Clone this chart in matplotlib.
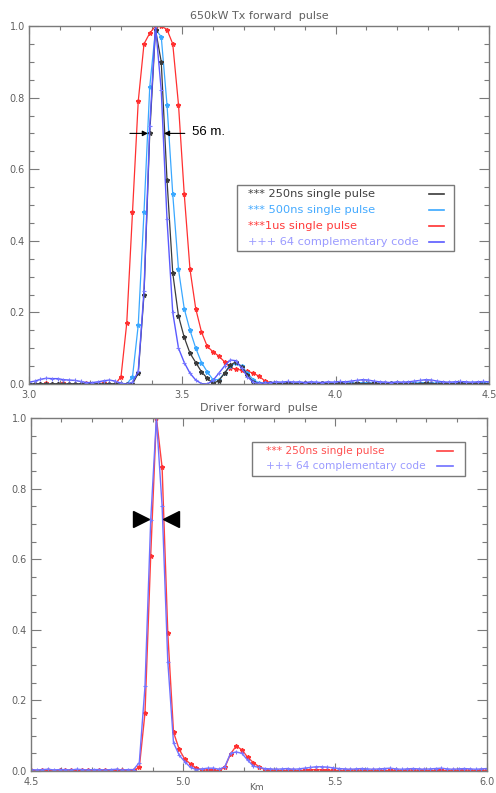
import numpy as np
import matplotlib
matplotlib.use("Agg")
import matplotlib.pyplot as plt
from matplotlib.patches import Rectangle
from matplotlib.ticker import MultipleLocator

# ---------------- data ----------------
# sample grid: start (km) and step (km) of range gates
top_start = 3.0
bot_start = 4.5
gate_step = 0.01875

top_red_1us = [0.0, 0.0, 0.0, 0.002, 0.0, 0.0, 0.002, 0.0, 0.0, 0.0,
               0.002, 0.0, 0.0, 0.003, 0.0, 0.0, 0.02, 0.17, 0.48, 0.79,
               0.95, 0.98, 1.0, 1.0, 0.99, 0.95, 0.78, 0.53, 0.32, 0.21,
               0.145, 0.105, 0.09, 0.078, 0.062, 0.046, 0.041, 0.039, 0.036, 0.03,
               0.022, 0.009, 0.004, 0.002, 0.001, 0.002, 0.002, 0.001, 0.003, 0.002,
               0.001, 0.002, 0.002, 0.001, 0.002, 0.003, 0.002, 0.001, 0.002, 0.002,
               0.001, 0.002, 0.002, 0.001, 0.002, 0.003, 0.002, 0.002, 0.001, 0.002,
               0.002, 0.001, 0.002, 0.002, 0.001, 0.002, 0.002, 0.001, 0.002, 0.002, 0.001]
top_black_250ns = [0.0, 0.0, 0.001, 0.0, 0.0, 0.001, 0.0, 0.0, 0.001, 0.0,
                   0.0, 0.001, 0.0, 0.0, 0.001, 0.0, 0.0, 0.0, 0.0, 0.03,
                   0.25, 0.70, 0.99, 0.90, 0.57, 0.31, 0.19, 0.13, 0.086, 0.06,
                   0.034, 0.016, 0.002, 0.009, 0.03, 0.053, 0.062, 0.048, 0.025, 0.005,
                   0.001, 0.001, 0.002, 0.001, 0.001, 0.002, 0.001, 0.001, 0.002, 0.001,
                   0.001, 0.002, 0.001, 0.001, 0.002, 0.001, 0.001, 0.002, 0.001, 0.001,
                   0.002, 0.001, 0.001, 0.002, 0.001, 0.001, 0.002, 0.001, 0.001, 0.002,
                   0.001, 0.001, 0.002, 0.001, 0.001, 0.002, 0.001, 0.001, 0.002, 0.001, 0.001]
top_lblue_500ns = [0.0, 0.0, 0.0, 0.001, 0.0, 0.0, 0.001, 0.0, 0.0, 0.001,
                   0.0, 0.0, 0.001, 0.0, 0.0, 0.001, 0.0, 0.0, 0.02, 0.165,
                   0.48, 0.83, 0.99, 0.97, 0.78, 0.53, 0.32, 0.21, 0.15, 0.10,
                   0.06, 0.034, 0.012, 0.012, 0.03, 0.05, 0.058, 0.05, 0.03, 0.012,
                   0.003, 0.002, 0.002, 0.003, 0.002, 0.002, 0.003, 0.002, 0.002, 0.003,
                   0.002, 0.002, 0.003, 0.002, 0.002, 0.003, 0.002, 0.002, 0.004, 0.003,
                   0.002, 0.002, 0.003, 0.002, 0.002, 0.003, 0.002, 0.002, 0.003, 0.004,
                   0.002, 0.002, 0.003, 0.002, 0.002, 0.003, 0.002, 0.002, 0.003, 0.002, 0.002]
top_blue_code = [0.005, 0.008, 0.013, 0.016, 0.015, 0.015, 0.012, 0.011, 0.010, 0.007,
                 0.004, 0.004, 0.006, 0.009, 0.011, 0.008, 0.002, 0.0, 0.005, 0.035,
                 0.26, 0.72, 1.0, 0.82, 0.46, 0.20, 0.10, 0.06, 0.03, 0.011,
                 0.001, 0.0, 0.01, 0.03, 0.05, 0.067, 0.065, 0.044, 0.02, 0.005,
                 0.002, 0.003, 0.004, 0.006, 0.005, 0.007, 0.005, 0.006, 0.004, 0.006,
                 0.005, 0.004, 0.006, 0.005, 0.007, 0.006, 0.008, 0.010, 0.012, 0.011,
                 0.008, 0.006, 0.005, 0.004, 0.006, 0.005, 0.006, 0.008, 0.010, 0.012,
                 0.011, 0.008, 0.006, 0.005, 0.006, 0.007, 0.006, 0.005, 0.006, 0.007, 0.006]

bot_red_250ns = [0.002, 0.001, 0.002, 0.002, 0.001, 0.002, 0.003, 0.002, 0.001, 0.002,
                 0.002, 0.001, 0.002, 0.002, 0.001, 0.002, 0.002, 0.001, 0.002, 0.01,
                 0.165, 0.61, 1.0, 0.86, 0.39, 0.11, 0.061, 0.033, 0.02, 0.008,
                 0.004, 0.002, 0.002, 0.002, 0.01, 0.048, 0.071, 0.06, 0.039, 0.024,
                 0.012, 0.004, 0.002, 0.002, 0.001, 0.002, 0.002, 0.001, 0.002, 0.003,
                 0.004, 0.003, 0.002, 0.002, 0.001, 0.002, 0.002, 0.003, 0.002, 0.001,
                 0.002, 0.002, 0.001, 0.002, 0.002, 0.001, 0.002, 0.003, 0.002, 0.002,
                 0.001, 0.002, 0.002, 0.001, 0.002, 0.002, 0.003, 0.002, 0.001, 0.002, 0.002]
bot_blue_code = [0.004, 0.003, 0.004, 0.005, 0.003, 0.004, 0.004, 0.003, 0.005, 0.004,
                 0.003, 0.004, 0.004, 0.003, 0.004, 0.005, 0.003, 0.004, 0.004, 0.024,
                 0.24, 0.71, 1.0, 0.75, 0.31, 0.08, 0.045, 0.026, 0.01, 0.004,
                 0.006, 0.008, 0.008, 0.005, 0.012, 0.05, 0.054, 0.05, 0.031, 0.014,
                 0.01, 0.007, 0.006, 0.005, 0.006, 0.007, 0.005, 0.006, 0.008, 0.010,
                 0.012, 0.012, 0.011, 0.009, 0.007, 0.006, 0.005, 0.006, 0.007, 0.006,
                 0.005, 0.006, 0.007, 0.008, 0.006, 0.005, 0.006, 0.007, 0.006, 0.005,
                 0.006, 0.007, 0.008, 0.006, 0.005, 0.006, 0.007, 0.006, 0.005, 0.006, 0.007]

top_xticks = [3.0, 3.5, 4.0, 4.5]
bot_xticks = [4.5, 5.0, 5.5, 6.0]
yticks = [0.0, 0.2, 0.4, 0.6, 0.8, 1.0]

top_title = "650kW Tx forward  pulse"
bot_title = "Driver forward  pulse"
top_legend = ["*** 250ns single pulse", "*** 500ns single pulse",
              "***1us single pulse", "+++ 64 complementary code"]
bot_legend = ["*** 250ns single pulse", "+++ 64 complementary code"]

# ---------------- style ----------------
GRAY = "#7a7a7a"
TXT = "#606060"
C_BLACK = "#3a3a3a"
C_LBLUE = "#3aa8ff"
C_RED = "#ff3030"
C_BLUE = "#5a5aff"
C_BLUE_M = "#7878ff"

fig = plt.figure(figsize=(4.96, 7.93), dpi=100)
ax1 = fig.add_axes([29/496, 1-384/793, 460/496, 358/793])
ax2 = fig.add_axes([31/496, 1-771/793, 456/496, 353/793])


def style(ax, xlim, xticks, title):
    ax.set_xlim(*xlim)
    ax.set_ylim(0, 1.0)
    for s in ax.spines.values():
        s.set_color(GRAY)
        s.set_linewidth(1.0)
    ax.set_xticks(xticks)
    ax.set_xticklabels([f"{t:.1f}" for t in xticks])
    ax.set_yticks(yticks)
    ax.set_yticklabels([f"{t:.1f}" for t in yticks])
    ax.xaxis.set_minor_locator(MultipleLocator(0.1))
    ax.yaxis.set_minor_locator(MultipleLocator(0.05))
    ax.tick_params(axis="both", which="both", direction="in", top=True, right=True,
                   color=GRAY, labelcolor=TXT, labelsize=7, width=0.8)
    ax.tick_params(axis="x", which="major", length=5.5, pad=4)
    ax.tick_params(axis="x", which="minor", length=3)
    ax.tick_params(axis="y", which="major", length=7, pad=3)
    ax.tick_params(axis="y", which="minor", length=3.5)
    ax.set_title(title, fontsize=8, color=TXT, pad=5)


def gates(start, n):
    return start + gate_step * np.arange(n)


# ---------------- top panel ----------------
xt = gates(top_start, len(top_red_1us))
ax1.plot(xt, top_red_1us, color=C_RED, lw=0.9, marker="*", ms=3.2, mec=C_RED, mfc=C_RED)
ax1.plot(xt, top_lblue_500ns, color=C_LBLUE, lw=0.9, marker="*", ms=3.2, mec=C_LBLUE, mfc=C_LBLUE)
ax1.plot(xt, top_black_250ns, color=C_BLACK, lw=0.9, marker="*", ms=3.2, mec=C_BLACK, mfc=C_BLACK)
ax1.plot(xt, top_blue_code, color=C_BLUE, lw=1.0, marker="+", ms=3.5, mec=C_BLUE_M, mew=0.8)
style(ax1, (3.0, 4.5), top_xticks, top_title)

# 56 m annotation
ax1.annotate("", xy=(3.388, 0.70), xytext=(3.329, 0.70),
             arrowprops=dict(arrowstyle="-|>", color="black", lw=0.8, mutation_scale=8,
                             shrinkA=0, shrinkB=0))
ax1.annotate("", xy=(3.44, 0.70), xytext=(3.508, 0.70),
             arrowprops=dict(arrowstyle="-|>", color="black", lw=0.8, mutation_scale=8,
                             shrinkA=0, shrinkB=0))
ax1.text(3.532, 0.705, "56 m.", fontsize=9.5, color="black", va="center", ha="left",
         family="Liberation Sans")

# legend top
ax1.add_patch(Rectangle((0.452, 0.372), 0.472, 0.184, transform=ax1.transAxes,
                        fill=False, edgecolor=GRAY, lw=1.0, zorder=5))
ty = [0.531, 0.486, 0.442, 0.398]
tcol = ["#404040", "#44aaff", "#ff3a3a", "#9a9aff"]
lcol = [C_BLACK, C_LBLUE, C_RED, C_BLUE]
for lab, y, tc, lc in zip(top_legend, ty, tcol, lcol):
    ax1.text(0.477, y, lab, transform=ax1.transAxes, fontsize=8.2, color=tc,
             va="center", ha="left", zorder=6)
    ax1.plot([0.870, 0.902], [y, y], transform=ax1.transAxes, color=lc, lw=1.2, zorder=6)

# ---------------- bottom panel ----------------
xb = gates(bot_start, len(bot_red_250ns))
ax2.plot(xb, bot_red_250ns, color="#ff4040", lw=1.0, marker="*", ms=3.2, mec="#ff3030", mfc="#ff3030")
ax2.plot(xb, bot_blue_code, color="#7070ff", lw=1.0, marker="+", ms=3.5, mec="#7878ff", mew=0.8)
style(ax2, (4.5, 6.0), bot_xticks, bot_title)
fig.text(0.518, 0.0015, "Km", fontsize=6.5, color=TXT, ha="center", va="bottom")

ax2.plot([4.8628], [0.714], marker=">", ms=11.5, color="black", ls="none")
ax2.plot([4.9615], [0.714], marker="<", ms=11.5, color="black", ls="none")

ax2.add_patch(Rectangle((0.485, 0.837), 0.467, 0.096, transform=ax2.transAxes,
                        fill=False, edgecolor=GRAY, lw=1.0, zorder=5))
by = [0.907, 0.864]
for lab, y, tc, lc in zip(bot_legend, by, ["#ff5050", "#9a9aff"], ["#ff4040", "#7070ff"]):
    ax2.text(0.515, y, lab, transform=ax2.transAxes, fontsize=7.6, color=tc,
             va="center", ha="left", zorder=6)
    ax2.plot([0.890, 0.926], [y, y], transform=ax2.transAxes, color=lc, lw=1.2, zorder=6)

fig.savefig("out.png", dpi=100)
